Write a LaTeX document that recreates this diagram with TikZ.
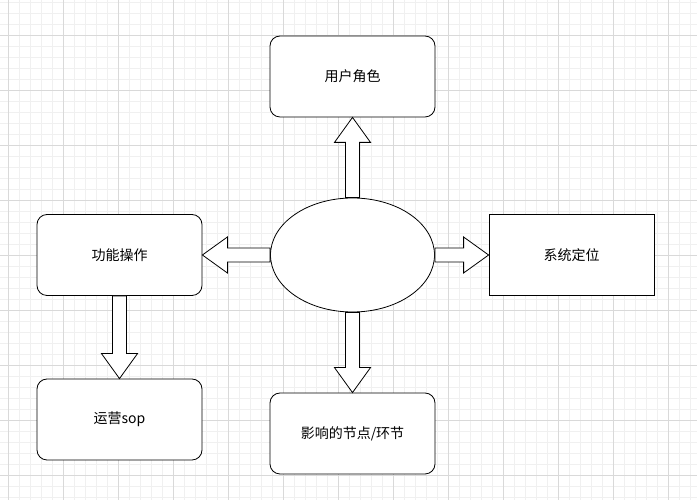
\documentclass[tikz,border=0pt]{standalone}
\usepackage{fontspec}
\setmainfont{Noto Sans CJK SC}
\usetikzlibrary{calc,shapes.geometric}
\tikzset{
  box/.style={draw,thick,rounded corners=10pt,minimum width=165pt,minimum height=81pt,fill=white},
  plainbox/.style={draw,thick,minimum width=165pt,minimum height=81pt,fill=white},
  blockarrow/.style={draw,thick,fill=white,line join=miter},
  minor/.style={black!6,line width=0.5pt},
  major/.style={black!15,line width=0.6pt}
}
\newcommand\blockarr[2]{%
  \path let \p0=(0,0) in coordinate (h) at ($(#2)!25pt!(#1)$);
  \draw[blockarrow] ($(#1)!7pt!90:(#2)$) -- ($(h)!7pt!-90:(#1)$) -- ($(h)!18pt!-90:(#1)$)
    -- (#2) -- ($(h)!18pt!90:(#1)$) -- ($(h)!7pt!90:(#1)$) -- ($(#1)!7pt!-90:(#2)$) -- cycle;}
\begin{document}
\begin{tikzpicture}[x=1pt,y=1pt,font=\fontsize{14}{16}\selectfont]
  \useasboundingbox (0,0) rectangle (697,500);
  \fill[white] (0,0) rectangle (697,500);
  % grid
  \foreach \i in {0,...,64} {\draw[minor] (8+11*\i-11,0) -- (8+11*\i-11,500);}
  \foreach \j in {0,...,46} {\draw[minor] (0,25+11*\j-33) -- (697,25+11*\j-33);}
  \foreach \i in {0,...,12} {\draw[major] (8+55*\i,0) -- (8+55*\i,500);}
  \foreach \j in {0,...,9} {\draw[major] (0,25+55*\j) -- (697,25+55*\j);}
  % nodes
  \node[box] (role) at (352.5,423.5) {用户角色};
  \node[box] (func) at (119.5,245) {功能操作};
  \node[plainbox] (sys) at (571.5,245) {系统定位};
  \node[draw,thick,ellipse,minimum width=164pt,minimum height=114pt,inner sep=0pt,fill=white] (core) at (352.5,245) {};
  \node[box] (sop) at (119.5,80.5) {运营sop};
  \node[box] (impact) at (352.5,66.5) {影响的节点/环节};
  % arrows
  \blockarr{core.north}{role.south}
  \blockarr{core.west}{func.east}
  \blockarr{core.east}{sys.west}
  \blockarr{core.south}{impact.north}
  \blockarr{func.south}{sop.north}
\end{tikzpicture}
\end{document}
